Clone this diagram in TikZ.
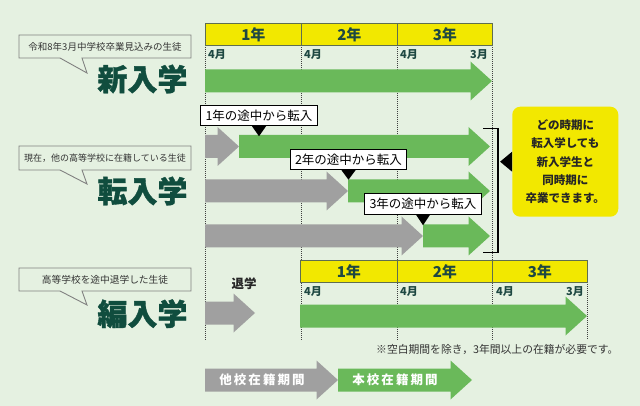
\documentclass[tikz,border=0pt]{standalone}
\usepackage{fontspec}
\setmainfont{Noto Sans CJK JP}
\newfontfamily\fonttitulo[BoldFeatures={FakeBold=1.2}]{Noto Sans CJK JP}
\usetikzlibrary{positioning}
\definecolor{fundo}{RGB}{229,241,225}
\definecolor{verdeseta}{RGB}{106,185,90}
\definecolor{cinzaseta}{RGB}{160,160,160}
\definecolor{amarelo}{RGB}{242,232,0}
\definecolor{verdetitulo}{RGB}{16,77,62}
\definecolor{verdetexto}{RGB}{30,72,66}
\definecolor{bordaano}{RGB}{95,110,80}
\tikzset{
  titulo/.style={anchor=east, text=verdetitulo, font=\fonttitulo\fontsize{30}{30}\selectfont\bfseries},
  balao/.style={draw=gray, line width=0.9pt},
  textobalao/.style={text=black!80, font=\fontsize{9.5}{10}\selectfont},
  ano/.style={draw=bordaano, fill=amarelo, line width=0.8pt, minimum height=22, text=verdetexto, font=\fontsize{15}{15}\selectfont\bfseries},
  mes/.style={text=verdetexto, font=\fontsize{11}{11}\selectfont\bfseries, inner sep=0pt},
  grade/.style={black!75, line width=0.8pt, dash pattern=on 1pt off 1pt},
  rotulo/.style={draw=black, fill=white, line width=1pt, minimum height=20.5, inner xsep=5pt, font=\fontsize{12.5}{12.5}\selectfont},
  legenda/.style={text=white, font=\fontsize{12.5}{12.5}\selectfont\bfseries}
}
% seta larga: x inicial, x da ponta, y do centro, cor
\newcommand{\setabloco}[4]{%
  \fill[#4] (#1,#3-11.5) -- (#2-21.5,#3-11.5) -- (#2-21.5,#3-19.5) -- (#2,#3)
    -- (#2-21.5,#3+19.5) -- (#2-21.5,#3+11.5) -- (#1,#3+11.5) -- cycle;}
\begin{document}
\begin{tikzpicture}[x=1pt,y=-1pt] %Início do desenho, em pixels
					%Fundo
				\fill[fundo] (0,0) rectangle (640,406);
				\useasboundingbox (0,0) rectangle (640,406);
					%Linhas pontilhadas
				\draw[grade] (205,45) -- (205,340);
				\draw[grade] (301,45) -- (301,340);
				\draw[grade] (397,45) -- (397,340);
				\draw[grade] (492,45) -- (492,340);
				\draw[grade] (587,282) -- (587,340);
					%Anos (topo)
				\node[ano, minimum width=96, anchor=north west] (ano1) at (205,23) {1年};
				\node[ano, minimum width=96, anchor=north west] (ano2) at (301,23) {2年};
				\node[ano, minimum width=95, anchor=north west] (ano3) at (397,23) {3年};
				\node[mes, anchor=west] (mes1) at (208,55) {4月};
				\node[mes, anchor=west] (mes2) at (304,55) {4月};
				\node[mes, anchor=west] (mes3) at (400,55) {4月};
				\node[mes, anchor=east] (mes4) at (488,55) {3月};
					%Novo ingresso
				\draw[balao] (19,35) -- (191,35) -- (191,58) -- (82,58) -- (87,73) -- (60,58) -- (19,58) -- cycle;
				\node[textobalao] (bnovo) at (105,46.5) {令和8年3月中学校卒業見込みの生徒};
				\node[titulo] (novo) at (191,79) {新入学};
				\setabloco{205}{492}{81}{verdeseta}
					%Transferência
				\draw[balao] (19,146) -- (191,146) -- (191,170) -- (82,170) -- (87,184) -- (60,170) -- (19,170) -- cycle;
				\node[textobalao, font=\fontsize{9}{10}\selectfont] (btrans) at (105,158) {現在，他の高等学校に在籍している生徒};
				\node[titulo] (trans) at (191,191) {転入学};
				\setabloco{205}{239}{146.5}{cinzaseta}
				\setabloco{239}{490}{146.5}{verdeseta}
				\setabloco{205}{348}{191}{cinzaseta}
				\setabloco{348}{490}{191}{verdeseta}
				\setabloco{205}{423}{236}{cinzaseta}
				\setabloco{423}{490}{236}{verdeseta}
				\node[rotulo] (rot1) at (259,115.5) {1年の途中から転入};
				\node[rotulo] (rot2) at (348.5,159.5) {2年の途中から転入};
				\node[rotulo] (rot3) at (423,204) {3年の途中から転入};
				\fill (rot1.south) ++(-7,0) -- ++(14,0) -- ++(-7,10) -- cycle;
				\fill (rot2.south) ++(-7,0) -- ++(14,0) -- ++(-7,9.5) -- cycle;
				\fill (rot3.south) ++(-7,0) -- ++(14,0) -- ++(-7,10.5) -- cycle;
					%Chave e mensagem
				\draw[line width=1.2pt] (483,128.5) -- (498,128.5) -- (498,252.5) -- (483,252.5);
				\node[fill=amarelo, rounded corners=8pt, minimum width=106, minimum height=110, align=center,
				      text=black!85, font=\fontsize{11.5}{18.2}\selectfont\bfseries] (msg) at (565.3,161.7)
				      {どの時期に\\転入学しても\\新入学生と\\同時期に\\卒業できます。};
				\fill (msg.west) ++(0,-10) -- ++(-12,10) -- ++(12,10) -- cycle;
					%Admissão
				\draw[balao] (19,268) -- (191,268) -- (191,291) -- (82,291) -- (87,305) -- (60,291) -- (19,291) -- cycle;
				\node[textobalao, font=\fontsize{9.7}{10}\selectfont] (badm) at (105,279.5) {高等学校を途中退学した生徒};
				\node[titulo] (adm) at (191,313.7) {編入学};
				\node[font=\fontsize{12.5}{12.5}\selectfont\bfseries, text=black!85] (saida) at (244,283.3) {退学};
				\setabloco{205}{255}{313}{cinzaseta}
					%Anos (baixo)
				\node[ano, minimum width=97, anchor=north west] (bano1) at (300,260) {1年};
				\node[ano, minimum width=95, anchor=north west] (bano2) at (397,260) {2年};
				\node[ano, minimum width=95, anchor=north west] (bano3) at (492,260) {3年};
				\node[mes, anchor=west] (bmes1) at (304,292) {4月};
				\node[mes, anchor=west] (bmes2) at (400,292) {4月};
				\node[mes, anchor=west] (bmes3) at (496,292) {4月};
				\node[mes, anchor=east] (bmes4) at (584,292) {3月};
				\setabloco{300}{587}{316}{verdeseta}
				\node[anchor=west, text=black!80, font=\fontsize{10.8}{11}\selectfont, inner sep=0pt] (nota) at (376,350)
				      {※空白期間を除き，3年間以上の在籍が必要です。};
					%Legenda
				\setabloco{205}{338}{380}{cinzaseta}
				\setabloco{338}{472}{380}{verdeseta}
				\node[legenda] (leg1) at (262,380) {他\,校\,在\,籍\,期\,間};
				\node[legenda] (leg2) at (395,380) {本\,校\,在\,籍\,期\,間};
\end{tikzpicture}
\end{document}
